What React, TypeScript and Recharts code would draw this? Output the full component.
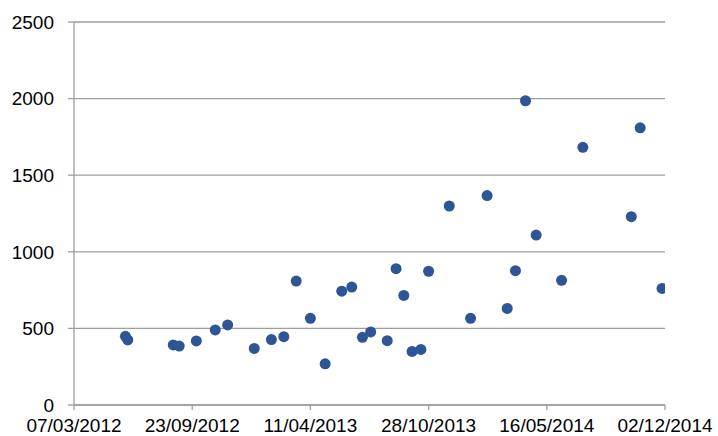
import React from "react";
import { ScatterChart, Scatter, XAxis, YAxis, CartesianGrid } from "recharts";

const dates = [
  "2012-06-02", "2012-06-06", "2012-08-22", "2012-09-01", "2012-09-30",
  "2012-11-01", "2012-11-22", "2013-01-06", "2013-02-04", "2013-02-25",
  "2013-03-18", "2013-04-11", "2013-05-06", "2013-06-03", "2013-06-20",
  "2013-07-08", "2013-07-22", "2013-08-19", "2013-09-03", "2013-09-16",
  "2013-09-30", "2013-10-15", "2013-10-28", "2013-12-02", "2014-01-07",
  "2014-02-04", "2014-03-10", "2014-03-24", "2014-04-10", "2014-04-28",
  "2014-06-10", "2014-07-16", "2014-10-06", "2014-10-21", "2014-11-27",
];
const values = [
  448, 425, 392, 385, 418,
  490, 523, 369, 427, 446,
  809, 566, 269, 743, 770,
  442, 477, 420, 890, 715,
  350, 363, 873, 1299, 566,
  1367, 630, 877, 1986, 1109,
  814, 1682, 1229, 1809, 761,
];
const xTickDates = ["2012-03-07", "2012-09-23", "2013-04-11", "2013-10-28", "2014-05-16", "2014-12-02"];
const yTicks = [0, 500, 1000, 1500, 2000, 2500];

const toTs = (s: string) => Date.parse(s + "T00:00:00Z");
const data = dates.map((d, i) => ({ x: toTs(d), y: values[i] }));
const xTicks = xTickDates.map(toTs);

const fmt = (t: number) => {
  const d = new Date(t);
  const dd = String(d.getUTCDate()).padStart(2, "0");
  const mm = String(d.getUTCMonth() + 1).padStart(2, "0");
  return `${dd}/${mm}/${d.getUTCFullYear()}`;
};

const AXIS = "#9E9E9E";
const FONT = "'Liberation Sans', Arial, sans-serif";

const Dot = (props: any) => <circle cx={props.cx} cy={props.cy} r={5.5} fill="#2E5596" />;

export default function App() {
  return (
    <div style={{ position: "absolute", left: 0, top: 0, background: "#fff" }}>
      <ScatterChart width={718} height={436} margin={{ top: 22, right: 53, bottom: 0, left: 0 }}>
        <CartesianGrid vertical={false} stroke={AXIS} strokeWidth={1.3} />
        <XAxis
          type="number"
          dataKey="x"
          domain={[xTicks[0], xTicks[xTicks.length - 1]]}
          ticks={xTicks}
          tickFormatter={fmt}
          height={31}
          stroke={AXIS}
          strokeWidth={1.3}
          tickSize={5}
          tickMargin={9}
          tick={{ fill: "#000", fontSize: 19, fontFamily: FONT }}
          interval={0}
          allowDataOverflow
        />
        <YAxis
          type="number"
          dataKey="y"
          domain={[0, 2500]}
          ticks={yTicks}
          width={74}
          stroke={AXIS}
          strokeWidth={1.3}
          tickSize={6}
          tickMargin={14}
          tick={{ fill: "#000", fontSize: 19, fontFamily: FONT }}
          interval={0}
        />
        <Scatter data={data} isAnimationActive={false} shape={Dot} />
      </ScatterChart>
    </div>
  );
}
